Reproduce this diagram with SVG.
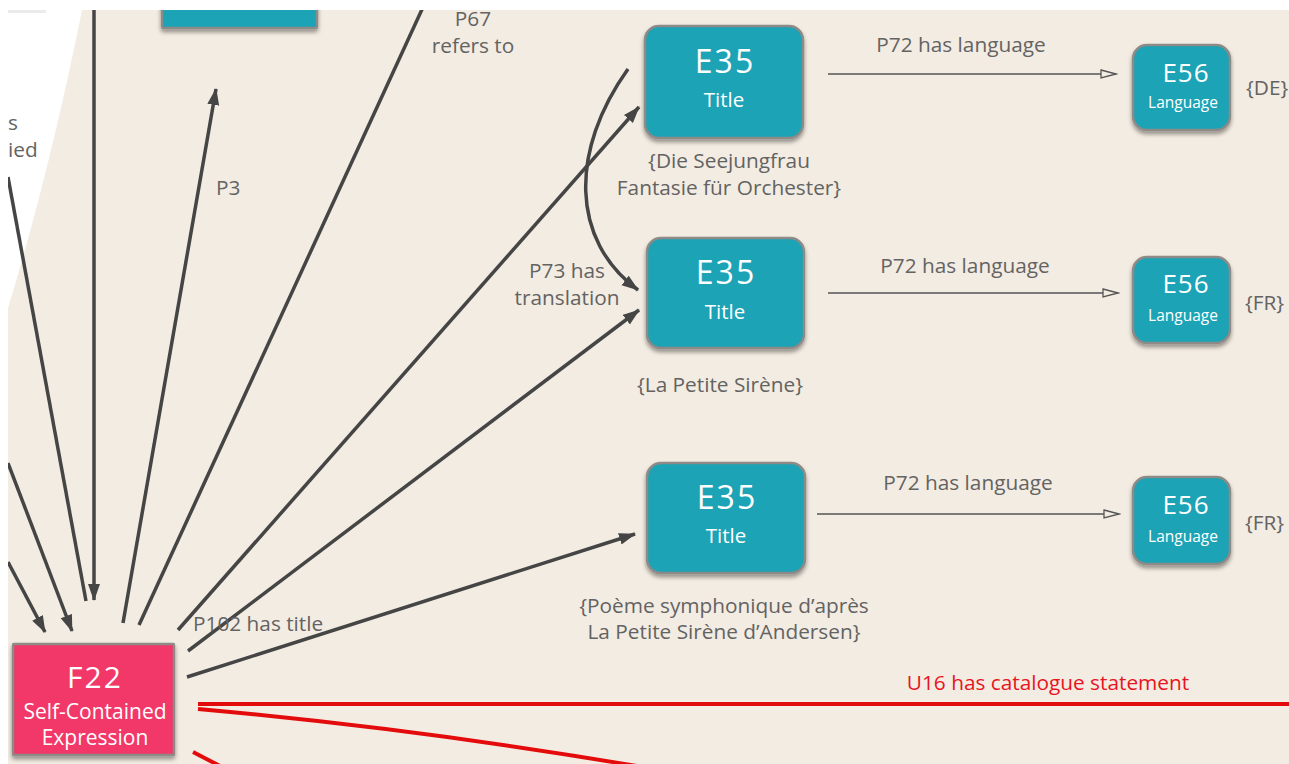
<svg xmlns="http://www.w3.org/2000/svg" width="1289" height="764" viewBox="0 0 1289 764">
  <defs>
    <style>
      .lbl { font-family: "Open Sans", "DejaVu Sans", sans-serif; font-size: 20.8px; fill: #636363; }
      .node { stroke: #8d8a87; stroke-width: 2.5; filter: url(#shadow); }
      .teal { fill: #1aa3b6; }
      .pink { fill: #f23768; }
      .code { font-family: "Open Sans", "DejaVu Sans", sans-serif; fill: #fff; text-anchor: middle; }
      .big { letter-spacing: 2px; }
      .edge { stroke: #454545; stroke-width: 3.5; fill: none; }
      .lang { stroke: #555; stroke-width: 1.4; fill: none; }
      .red { stroke: #e30b0b; stroke-width: 4; fill: none; }
    </style>
    <filter id="shadow" x="-20%" y="-20%" width="140%" height="150%">
      <feDropShadow dx="0" dy="3" stdDeviation="2" flood-color="#000" flood-opacity="0.4"/>
    </filter>
    <marker id="solid" markerUnits="userSpaceOnUse" markerWidth="18" markerHeight="14" refX="16" refY="6" orient="auto">
      <path d="M0,0 L17,6 L0,12 Z" fill="#454545"/>
    </marker>
    <marker id="open" markerUnits="userSpaceOnUse" markerWidth="18" markerHeight="12" refX="16" refY="5" orient="auto">
      <path d="M1,1 L16,5 L1,9 Z" fill="#f3ece2" stroke="#555" stroke-width="1.3"/>
    </marker>
    <clipPath id="panel">
      <rect x="8" y="10" width="1281" height="754"/>
    </clipPath>
  </defs>

  <!-- page -->
  <rect x="0" y="0" width="1289" height="764" fill="#ffffff"/>
  <path d="M82 10 L1289 10 L1289 764 L8 764 L8 308 Q50 170 82 10 Z" fill="#f3ece2"/>
  <rect x="8" y="10" width="38" height="3" fill="#000" opacity="0.08"/>

  <g clip-path="url(#panel)">
    <!-- partial label on the left -->
    <text class="lbl" x="8" y="130">s</text>
    <text class="lbl" x="8" y="157">ied</text>

    <!-- connectors -->
    <g id="connectors">
      <path class="edge" d="M86 601 L8 177"/>
      <path class="edge" d="M94 5 L94 600" marker-end="url(#solid)"/>
      <path class="edge" d="M8 463 L72 631" marker-end="url(#solid)"/>
      <path class="edge" d="M8 562 L45 632" marker-end="url(#solid)"/>
      <path class="edge" d="M123 623 L216 89" marker-end="url(#solid)"/>
      <path class="edge" d="M139 625 L424 5"/>
      <path class="edge" d="M178 630 L639 107" marker-end="url(#solid)"/>
      <path class="edge" d="M188 651 L639 310" marker-end="url(#solid)"/>
      <path class="edge" d="M187 677 L635 534" marker-end="url(#solid)"/>
      <path class="edge" d="M628 69 C570 150 570 240 638 290" marker-end="url(#solid)"/>

      <path class="lang" d="M828 74 L1116 74" marker-end="url(#open)"/>
      <path class="lang" d="M828 293 L1118 293" marker-end="url(#open)"/>
      <path class="lang" d="M817 514 L1119 514" marker-end="url(#open)"/>

      <path class="red" d="M198 704 L1295 704"/>
      <path class="red" d="M198 709 Q430 730 660 770"/>
      <path class="red" d="M193 752 L220 766"/>

      <text class="lbl" x="216" y="195">P3</text>
      <text class="lbl" x="473" y="26" text-anchor="middle">P67</text>
      <text class="lbl" x="473" y="53" text-anchor="middle">refers to</text>
      <text class="lbl" x="567" y="278" text-anchor="middle">P73 has</text>
      <text class="lbl" x="567" y="305" text-anchor="middle">translation</text>
      <text class="lbl" x="193" y="631">P102 has title</text>
      <text class="lbl" x="961" y="52" text-anchor="middle">P72 has language</text>
      <text class="lbl" x="965" y="273" text-anchor="middle">P72 has language</text>
      <text class="lbl" x="968" y="490" text-anchor="middle">P72 has language</text>
      <text class="lbl" x="1048" y="690" text-anchor="middle" style="fill:#e8141e">U16 has catalogue statement</text>
    </g>

    <!-- node cut off at the top edge -->
    <g id="node-top">
      <rect class="node teal" x="162" y="-40" width="155" height="68" rx="2"/>
    </g>

    <g id="e35-die-seejungfrau">
      <rect class="node teal" x="645" y="26" width="158" height="112" rx="14"/>
      <text class="code big" x="725" y="73" font-size="32">E35</text>
      <text class="code" x="724" y="107" font-size="20.5">Title</text>
      <text class="lbl" x="729" y="168" text-anchor="middle">{Die Seejungfrau</text>
      <text class="lbl" x="729" y="195" text-anchor="middle">Fantasie für Orchester}</text>
    </g>

    <g id="e35-petite-sirene">
      <rect class="node teal" x="647" y="238" width="157" height="110" rx="14"/>
      <text class="code big" x="726" y="284" font-size="32">E35</text>
      <text class="code" x="725" y="319" font-size="20.5">Title</text>
      <text class="lbl" x="720" y="392" text-anchor="middle">{La Petite Sirène}</text>
    </g>

    <g id="e35-poeme">
      <rect class="node teal" x="647" y="463" width="158" height="110" rx="14"/>
      <text class="code big" x="727" y="509" font-size="32">E35</text>
      <text class="code" x="726" y="543" font-size="20.5">Title</text>
      <text class="lbl" x="724" y="613" text-anchor="middle">{Poème symphonique d’après</text>
      <text class="lbl" x="724" y="639" text-anchor="middle">La Petite Sirène d’Andersen}</text>
    </g>

    <g id="e56-de">
      <rect class="node teal" x="1133" y="45" width="97" height="85" rx="14"/>
      <text class="code" x="1186" y="82" font-size="26" letter-spacing="1">E56</text>
      <text class="code" x="1183" y="108" font-size="15.5">Language</text>
      <text class="lbl" x="1246" y="95">{DE}</text>
    </g>

    <g id="e56-fr-1">
      <rect class="node teal" x="1133" y="257" width="97" height="86" rx="14"/>
      <text class="code" x="1186" y="293" font-size="26" letter-spacing="1">E56</text>
      <text class="code" x="1183" y="321" font-size="15.5">Language</text>
      <text class="lbl" x="1245" y="310">{FR}</text>
    </g>

    <g id="e56-fr-2">
      <rect class="node teal" x="1133" y="477" width="97" height="87" rx="14"/>
      <text class="code" x="1186" y="514" font-size="26" letter-spacing="1">E56</text>
      <text class="code" x="1183" y="542" font-size="15.5">Language</text>
      <text class="lbl" x="1245" y="530">{FR}</text>
    </g>

    <g id="f22-expression">
      <rect class="node pink" x="13" y="644" width="161" height="111" rx="1"/>
      <text class="code big" x="95" y="688" font-size="30">F22</text>
      <text class="code" x="95" y="719" font-size="21">Self-Contained</text>
      <text class="code" x="95" y="745" font-size="21">Expression</text>
    </g>
  </g>
</svg>
